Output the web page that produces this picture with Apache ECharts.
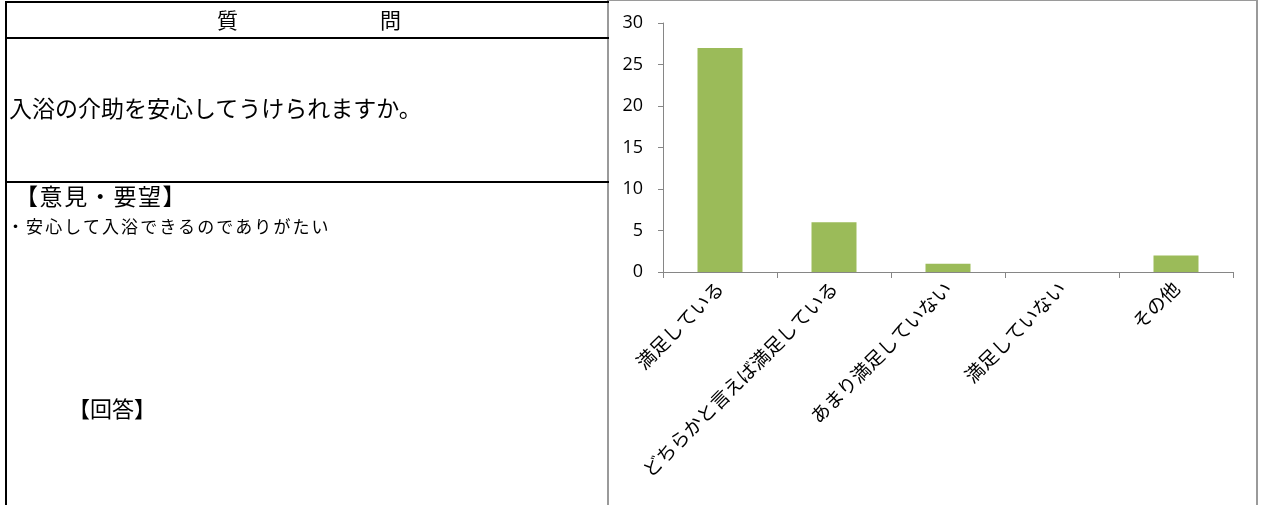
<!DOCTYPE html>
<html>
<head>
<meta charset="utf-8">
<script src="https://cdn.jsdelivr.net/npm/echarts@6/dist/echarts.min.js"></script>
<style>
  html, body { margin:0; padding:0; background:#fff; }
  body { width:1261px; height:505px; position:relative; overflow:hidden; font-family:"Noto Sans CJK JP","Noto Sans",sans-serif; color:#000; }
  #chart { position:absolute; left:0; top:0; width:1261px; height:505px; }
  .ln { position:absolute; background:#000; }
  .t { position:absolute; white-space:nowrap; line-height:1; }
  #frame { position:absolute; left:607px; top:0px; width:647px; height:520px; border-left:2px solid #9a9a9a; border-right:2px solid #9a9a9a; border-top:1px solid #9a9a9a; box-sizing:content-box; }
</style>
</head>
<body>
<div id="chart"></div>
<div id="frame"></div>
<div class="ln" style="left:5px;top:1px;width:2px;height:504px;"></div>
<div class="ln" style="left:5px;top:1px;width:604px;height:2px;"></div>
<div class="ln" style="left:5px;top:37px;width:604px;height:2px;"></div>
<div class="ln" style="left:5px;top:181px;width:604px;height:2px;"></div>
<div class="t" id="h1" style="left:217px;top:9px;font-size:21px;">質</div>
<div class="t" id="h2" style="left:380px;top:9px;font-size:21px;">問</div>
<div class="t" id="q" style="left:9px;top:96px;font-size:23px;"></div>
<div class="t" id="op" style="left:15px;top:184px;font-size:23px;letter-spacing:1.6px;"></div>
<div class="t" id="c1" style="left:7px;top:217px;font-size:17px;letter-spacing:2.1px;"></div>
<div class="t" id="ans" style="left:68px;top:396px;font-size:22px;"></div>
<script>
const questionText = "入浴の介助を安心してうけられますか。";
const opinionTitle = "【意見・要望】";
const comments = ["・安心して入浴できるのでありがたい"];
const answerTitle = "【回答】";

const categories = ["満足している", "どちらかと言えば満足している", "あまり満足していない", "満足していない", "その他"];
const counts = [27, 6, 1, 0, 2];
const yTicks = [0, 5, 10, 15, 20, 25, 30];

document.getElementById('q').textContent = questionText;
document.getElementById('op').textContent = opinionTitle;
document.getElementById('c1').textContent = comments[0];
document.getElementById('ans').textContent = answerTitle;

const chart = echarts.init(document.getElementById('chart'), null, {renderer:'canvas'});
chart.setOption({
  animation: false,
  grid: { left: 663, right: 28, top: 23, bottom: 233, containLabel: false },
  xAxis: {
    type: 'category',
    data: categories,
    axisLine: { show: true, lineStyle: { color: '#868686', width: 1 } },
    axisTick: { show: true, alignWithLabel: false, length: 6, lineStyle: { color: '#868686' } },
    axisLabel: { rotate: 45, interval: 0, margin: 13, fontSize: 19, color: '#000', fontFamily: '"Noto Sans CJK JP", sans-serif' }
  },
  yAxis: {
    type: 'value',
    min: yTicks[0],
    max: yTicks[yTicks.length - 1],
    interval: yTicks[1] - yTicks[0],
    axisLine: { show: true, lineStyle: { color: '#868686', width: 1 } },
    axisTick: { show: true, length: 5, lineStyle: { color: '#868686' } },
    splitLine: { show: false },
    axisLabel: { fontSize: 18, color: '#000', margin: 20, fontFamily: '"Open Sans", "Noto Sans", sans-serif' }
  },
  series: [{
    type: 'bar',
    data: counts,
    barWidth: 45,
    itemStyle: { color: '#9bbb59' }
  }]
});
</script>
</body>
</html>
